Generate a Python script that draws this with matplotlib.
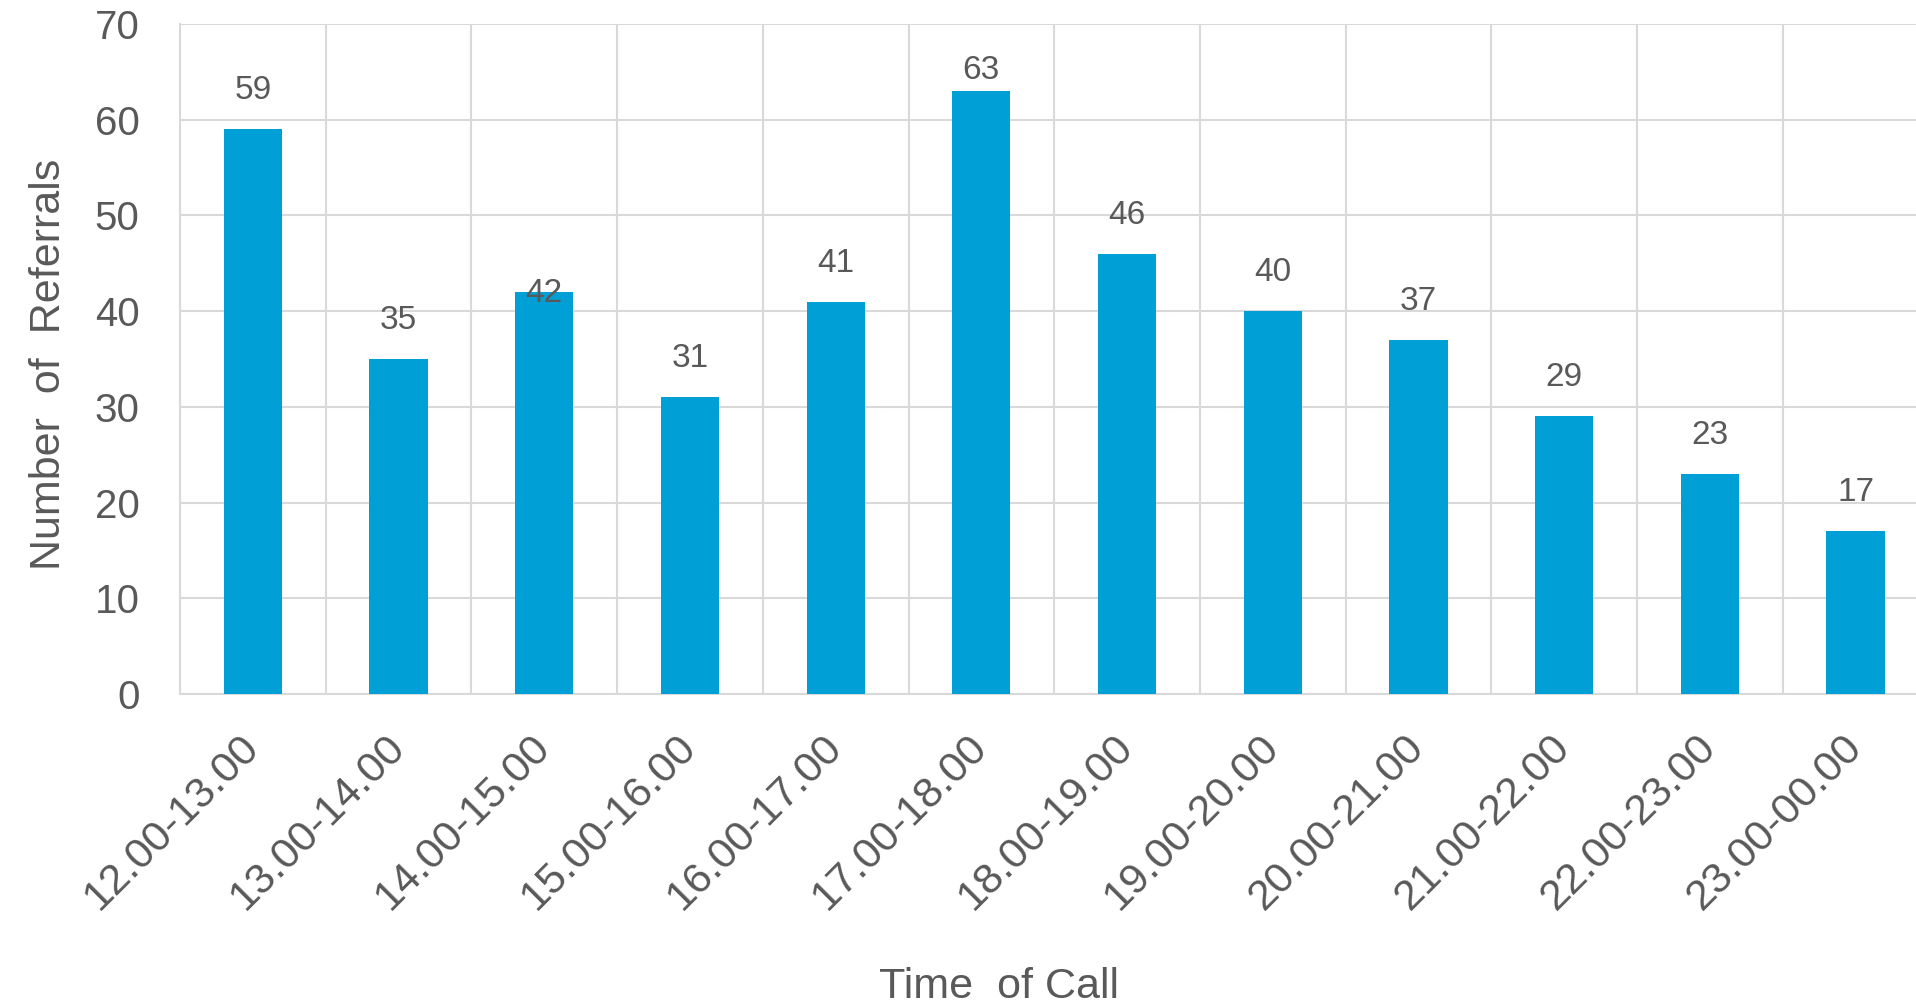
import matplotlib
matplotlib.use("Agg")
import matplotlib.pyplot as plt
from matplotlib.ticker import MultipleLocator, FixedLocator

categories = ["12.00-13.00", "13.00-14.00", "14.00-15.00", "15.00-16.00",
              "16.00-17.00", "17.00-18.00", "18.00-19.00", "19.00-20.00",
              "20.00-21.00", "21.00-22.00", "22.00-23.00", "23.00-00.00"]
referrals = [59, 35, 42, 31, 41, 63, 46, 40, 37, 29, 23, 17]

# vertical gap (pixels) between each bar top and the baseline of its value label
label_gaps = [30, 30, -10, 30, 30, 12, 30, 30, 30, 30, 30, 30]

bar_color = "#009FD6"
text_color = "#595959"
grid_color = "#D9D9D9"

plt.rcParams["font.family"] = ["Liberation Sans", "DejaVu Sans"]

fig = plt.figure(figsize=(19.16, 10.05), dpi=100)
W, H = 1916, 1005
left, right, top, bottom = 180, 1916, 24, 694
ax = fig.add_axes([left / W, 1 - bottom / H, (right - left) / W, (bottom - top) / H])

x = list(range(len(categories)))
ax.bar(x, referrals, width=0.4, color=bar_color, zorder=3)

cat_width = 145.7
ax.set_xlim(-0.5, -0.5 + (right - left) / cat_width)
ax.set_ylim(0, 70)

ax.yaxis.set_major_locator(MultipleLocator(10))
ax.set_xticks(x)
ax.set_xticklabels(categories, rotation=45, ha="right", va="center",
                   rotation_mode="anchor", fontsize=31, color=text_color)
ax.xaxis.set_minor_locator(FixedLocator([i - 0.5 for i in range(len(categories) + 1)]))

ax.tick_params(axis="x", which="both", length=0, pad=34)
ax.tick_params(axis="y", length=0, pad=29, labelsize=29, labelcolor=text_color)

ax.grid(axis="y", which="major", color=grid_color, linewidth=1.5, zorder=0)
ax.grid(axis="x", which="minor", color=grid_color, linewidth=1.5, zorder=0)
ax.grid(axis="x", which="major", visible=False)

for side in ["top", "right"]:
    ax.spines[side].set_visible(False)
for side in ["left", "bottom"]:
    ax.spines[side].set_color(grid_color)
    ax.spines[side].set_linewidth(1.5)

for xi, v, gap in zip(x, referrals, label_gaps):
    ax.annotate(str(v), (xi, v), xytext=(0, gap), textcoords="offset pixels",
                ha="center", va="baseline", fontsize=24, color=text_color, zorder=4)

ax.set_ylabel("Number  of  Referrals", fontsize=31, color=text_color)
ax.yaxis.set_label_coords(-0.064, 0.4925)
ax.set_xlabel("Time  of Call", fontsize=31, color=text_color)
ax.xaxis.set_label_coords(0.472, -0.407)

fig.savefig("out.png", dpi=100)
